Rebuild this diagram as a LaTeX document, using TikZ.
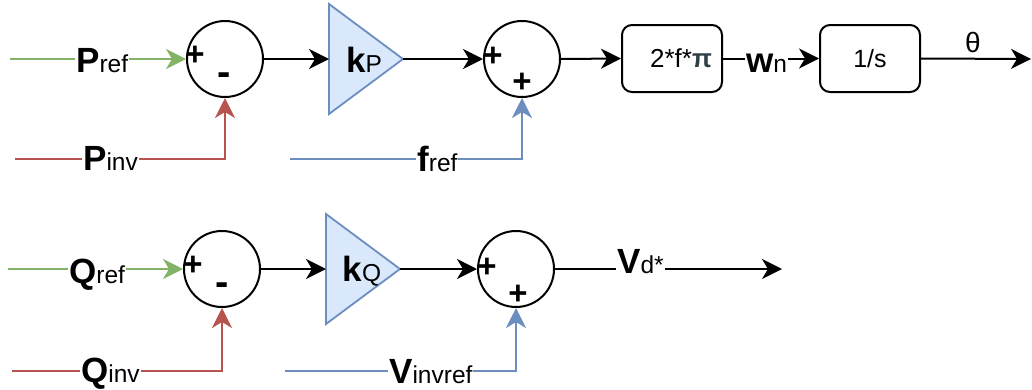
\documentclass[tikz,border=0pt]{standalone}
\usepackage{fontspec}
\setmainfont{Liberation Sans}
\usetikzlibrary{arrows.meta}
\definecolor{grn}{HTML}{82B366}
\definecolor{rd}{HTML}{B85450}
\definecolor{bl}{HTML}{6C8EBF}
\definecolor{blfill}{HTML}{DAE8FC}
\definecolor{pidark}{HTML}{2F3F46}
\newcommand\bigtxt[1]{{\fontsize{35}{35}\selectfont\bfseries #1}}
\newcommand\subtxt[1]{{\fontsize{24.5}{24.5}\selectfont #1}}
\tikzset{
  sumnode/.style={circle, draw, line width=2pt, minimum size=76pt, inner sep=0pt},
  blk/.style={draw, rounded corners=10pt, line width=2pt, minimum width=100pt, minimum height=67pt, font=\fontsize{25}{25}\selectfont},
  lbl/.style={fill=white, inner sep=1pt, anchor=base west},
  sgn/.style={inner sep=0pt, font=\fontsize{33}{33}\selectfont\bfseries},
  sgnm/.style={inner sep=0pt, font=\fontsize{40}{40}\selectfont\bfseries},
  tri/.style={draw=bl, fill=blfill, line width=1.8pt, line join=miter},
  conn/.style={line width=2pt, -{Stealth[length=20pt,width=20pt,inset=6pt]}},
}
\begin{document}
\begin{tikzpicture}[x=1pt,y=-1pt]
\useasboundingbox (0,0) rectangle (1032,389);
% ---------------- top row ----------------
\node[sumnode] (s1) at (225,59) {};
\node[sumnode] (s2) at (522,59) {};
\node[blk] (b1) at (672,58.5) {};
\node[blk] (b2) at (870,58.5) {1/s};
\coordinate (pref) at (10,59);
\coordinate (pinv) at (15,159);
\coordinate (fref) at (290,159);
\coordinate (kpa) at (329,59);
\coordinate (kpb) at (403,59);
\coordinate (theta) at (1031,59);
\draw[tri] (329,4) -- (kpb) -- (329,114) -- cycle;
\draw[conn, grn] (pref) -- (s1.west);
\draw[conn, rd] (pinv) -| (s1.south);
\draw[conn] (s1.east) -- (kpa);
\draw[conn] (kpb) -- (s2.west);
\draw[conn, bl] (fref) -| (s2.south);
\draw[conn] (s2.east) -- (b1.west);
\draw[conn] (b1.east) -- (b2.west);
\draw[conn] (b2.east) -- (theta);
\node[sgn] (s1p) at (195,56) {+};
\node[sgnm] (s1m) at (224,79) {-};
\node[sgn] (s2p) at (493,57) {+};
\node[sgn] (s2q) at (522,83) {+};
\node[inner sep=0pt] (kp) at (364,60) {\bigtxt{k}\subtxt{P}};
\node[lbl] (lpref) at (75,72) {\bigtxt{P}\subtxt{ref}};
\node[lbl] (lpinv) at (82,170) {\bigtxt{P}\subtxt{inv}};
\node[lbl] (lfref) at (416,171) {\bigtxt{f}\subtxt{ref}};
\node[inner sep=0pt] (b1t) at (681,58) {\fontsize{26}{26}\selectfont 2*f*\textcolor{pidark}{\bfseries π}};
\node[lbl] (lwn) at (745,72) {\bigtxt{w}\subtxt{n}};
\node[inner sep=0pt] (lth) at (973,42) {\fontsize{28}{28}\selectfont θ};
% ---------------- bottom row ----------------
\node[sumnode] (s3) at (222,269) {};
\node[sumnode] (s4) at (516,269) {};
\coordinate (qref) at (8,269);
\coordinate (qinv) at (12,371);
\coordinate (vref) at (285,371);
\coordinate (kqa) at (326,269);
\coordinate (kqb) at (400,269);
\coordinate (vd) at (782,269);
\draw[tri] (326,214) -- (kqb) -- (326,324) -- cycle;
\draw[conn, grn] (qref) -- (s3.west);
\draw[conn, rd] (qinv) -| (s3.south);
\draw[conn] (s3.east) -- (kqa);
\draw[conn] (kqb) -- (s4.west);
\draw[conn, bl] (vref) -| (s4.south);
\draw[conn] (s4.east) -- (vd);
\node[sgn] (s3p) at (193,266) {+};
\node[sgnm] (s3m) at (222,289) {-};
\node[sgn] (s4p) at (487,268) {+};
\node[sgn] (s4q) at (518,295) {+};
\node[inner sep=0pt] (kq) at (362,271) {\bigtxt{k}\subtxt{Q}};
\node[lbl] (lqref) at (68,283) {\bigtxt{Q}\subtxt{ref}};
\node[lbl] (lqinv) at (80,382) {\bigtxt{Q}\subtxt{inv}};
\node[lbl] (lvref) at (388,383) {\bigtxt{V}\subtxt{invref}};
\node[lbl] (lvd) at (616,273) {\bigtxt{V}\subtxt{d*}};
\end{tikzpicture}
\end{document}
